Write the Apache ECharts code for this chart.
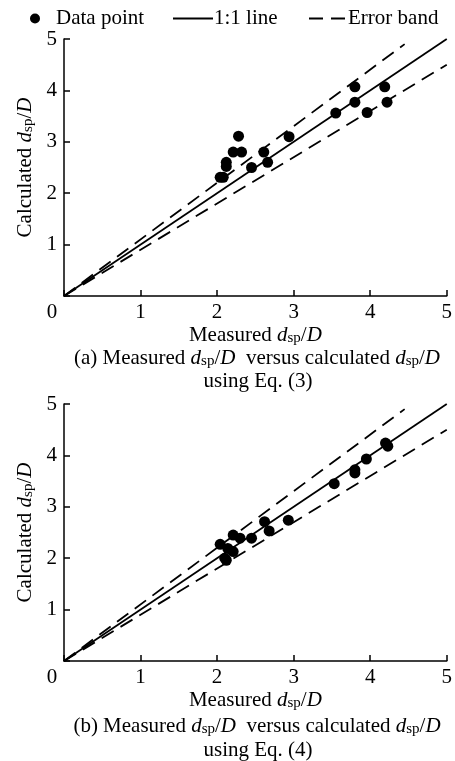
<!DOCTYPE html>
<html lang="en">
<head>
  <meta charset="UTF-8">
  <title>Measured vs calculated dsp/D</title>
  <style>
    html, body { margin: 0; padding: 0; background: #fff; }
  </style>
</head>
<body>
  <div id="main" style="width:455px;height:761px"></div>
  <script src="https://cdn.jsdelivr.net/npm/echarts@6/dist/echarts.min.js"></script>
  <script>
    // data
    var axisTicks = [0, 1, 2, 3, 4, 5];

    // (a) Eq. (3): [measured, calculated]
    var pointsEq3 = [
      [2.04, 2.31], [2.08, 2.31], [2.12, 2.52], [2.12, 2.60], [2.21, 2.80],
      [2.32, 2.80], [2.28, 3.11], [2.45, 2.50], [2.61, 2.80], [2.66, 2.60],
      [2.94, 3.10], [3.55, 3.56], [3.80, 4.07], [3.80, 3.77], [3.96, 3.57],
      [4.19, 4.07], [4.22, 3.77]
    ];
    // (b) Eq. (4)
    var pointsEq4 = [
      [2.04, 2.27], [2.21, 2.45], [2.30, 2.39], [2.14, 2.19], [2.21, 2.13],
      [2.10, 2.00], [2.12, 1.96], [2.45, 2.39], [2.62, 2.71], [2.68, 2.53],
      [2.93, 2.74], [3.53, 3.45], [3.80, 3.72], [3.80, 3.66], [3.95, 3.93],
      [4.20, 4.24], [4.23, 4.18]
    ];

    var oneToOne = [[0, 0], [5, 5]];
    var upperBand = [[0, 0], [4.45, 4.9]];
    var lowerBand = [[0, 0], [5, 4.5]];

    var FONT = 'Liberation Serif';
    var rich = {
      t: { fontFamily: FONT, fontSize: 21, color: '#000' },
      i: { fontFamily: FONT, fontSize: 21, fontStyle: 'italic', color: '#000' },
      s: { fontFamily: FONT, fontSize: 15, color: '#000', verticalAlign: 'bottom' }
    };
    var dsp = '{i|d}{s|sp}{t|/}{i|D}';

    var myChart = echarts.init(document.getElementById('main'), null, { renderer: 'canvas' });

    function xAxisFor(idx) {
      return {
        gridIndex: idx,
        type: 'value',
        min: axisTicks[0],
        max: axisTicks[axisTicks.length - 1],
        interval: 1,
        name: '{t|Measured }' + dsp,
        nameLocation: 'middle',
        nameGap: 29,
        nameTextStyle: { rich: rich },
        axisLine: { lineStyle: { color: '#000', width: 1.5 } },
        axisTick: { inside: true, length: 6, lineStyle: { color: '#000', width: 1.5 } },
        axisLabel: {
          margin: 6,
          fontFamily: FONT,
          fontSize: 21,
          color: '#000',
          formatter: function (v) { return v === 0 ? '{z|0}' : String(v); },
          rich: { z: { fontFamily: FONT, fontSize: 21, color: '#000', padding: [0, 24, 0, 0] } }
        },
        splitLine: { show: false }
      };
    }

    function yAxisFor(idx) {
      return {
        gridIndex: idx,
        type: 'value',
        min: axisTicks[0],
        max: axisTicks[axisTicks.length - 1],
        interval: 1,
        name: '{t|Calculated }' + dsp,
        nameLocation: 'middle',
        nameGap: 27,
        nameTextStyle: { rich: rich },
        axisLine: { show: true, lineStyle: { color: '#000', width: 1.5 } },
        axisTick: { show: true, inside: true, length: 6, lineStyle: { color: '#000', width: 1.5 } },
        axisLabel: {
          margin: 7,
          fontFamily: FONT,
          fontSize: 21,
          color: '#000',
          formatter: function (v) { return v === 0 ? '' : String(v); }
        },
        splitLine: { show: false }
      };
    }

    function seriesFor(idx, pts) {
      return [
        {
          name: 'Data point', type: 'scatter', xAxisIndex: idx, yAxisIndex: idx,
          data: pts, symbolSize: 11, itemStyle: { color: '#000', opacity: 1 }, z: 5
        },
        {
          name: '1:1 line', type: 'line', xAxisIndex: idx, yAxisIndex: idx,
          data: oneToOne, showSymbol: false, symbol: 'none',
          itemStyle: { color: '#000' },
          lineStyle: { color: '#000', width: 1.8 }
        },
        {
          name: 'Error band', type: 'line', xAxisIndex: idx, yAxisIndex: idx,
          data: upperBand, showSymbol: false, symbol: 'none',
          itemStyle: { color: '#000' },
          lineStyle: { color: '#000', width: 1.8, type: [14, 8] }
        },
        {
          name: 'Error band', type: 'line', xAxisIndex: idx, yAxisIndex: idx,
          data: lowerBand, showSymbol: false, symbol: 'none',
          itemStyle: { color: '#000' },
          lineStyle: { color: '#000', width: 1.8, type: [14, 8] }
        }
      ];
    }

    var legendText = { fontFamily: FONT, fontSize: 21, color: '#000' };

    var option = {
      backgroundColor: '#fff',
      animation: false,
      grid: [
        { left: 64, top: 39, width: 387, height: 257 },
        { left: 64, top: 404, width: 387, height: 257 }
      ],
      legend: [
        {
          data: [{ name: 'Data point', icon: 'circle' }], left: 30, top: 8, padding: 0,
          itemWidth: 10, itemHeight: 10, textStyle: Object.assign({ padding: [0, 0, 0, 11] }, legendText),
          selectedMode: false
        },
        {
          data: ['1:1 line'], left: 172, top: 8, padding: 0, itemWidth: 40, itemHeight: 14,
          itemStyle: { opacity: 0 },
          textStyle: Object.assign({ padding: [0, 0, 0, -4] }, legendText), selectedMode: false
        },
        {
          data: ['Error band'], left: 308, top: 8, padding: 0, itemWidth: 37, itemHeight: 14,
          itemStyle: { opacity: 0 },
          textStyle: Object.assign({ padding: [0, 0, 0, -3] }, legendText), selectedMode: false
        }
      ],
      xAxis: [xAxisFor(0), xAxisFor(1)],
      yAxis: [yAxisFor(0), yAxisFor(1)],
      series: seriesFor(0, pointsEq3).concat(seriesFor(1, pointsEq4)),
      graphic: [
        {
          type: 'text', x: 257, y: 358,
          style: { text: '{t|(a) Measured }' + dsp + '{t|  versus calculated }' + dsp, rich: rich, align: 'center', verticalAlign: 'middle' }
        },
        {
          type: 'text', x: 258, y: 381,
          style: { text: '{t|using Eq. (3)}', rich: rich, align: 'center', verticalAlign: 'middle' }
        },
        {
          type: 'text', x: 257, y: 726,
          style: { text: '{t|(b) Measured }' + dsp + '{t|  versus calculated }' + dsp, rich: rich, align: 'center', verticalAlign: 'middle' }
        },
        {
          type: 'text', x: 258, y: 750,
          style: { text: '{t|using Eq. (4)}', rich: rich, align: 'center', verticalAlign: 'middle' }
        }
      ]
    };

    myChart.setOption(option);
  </script>
</body>
</html>
